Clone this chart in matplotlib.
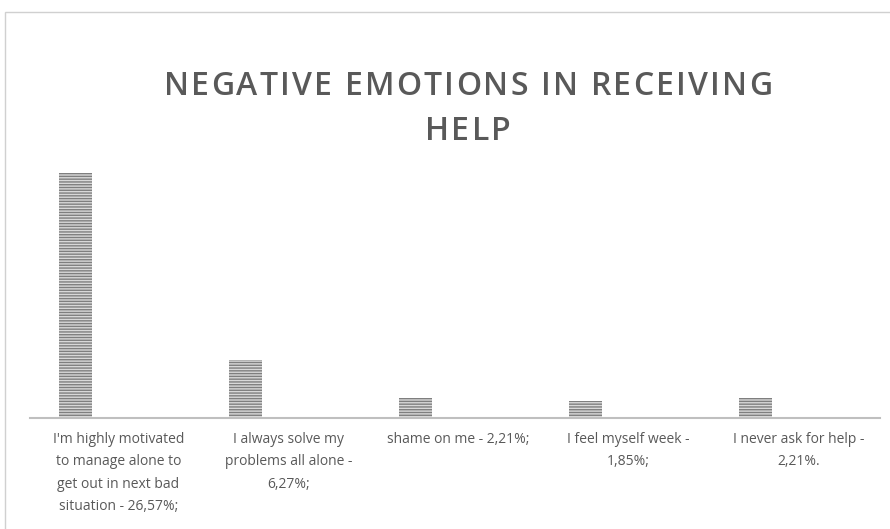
import numpy as np
import matplotlib.pyplot as plt
from matplotlib.patches import Rectangle
from matplotlib.font_manager import FontProperties
from matplotlib.transforms import blended_transform_factory

# data
labels = [
    "I'm highly motivated\nto manage alone to\nget out in next bad\nsituation - 26,57%;",
    "I always solve my\nproblems all alone -\n6,27%;",
    "shame on me - 2,21%;",
    "I feel myself week -\n1,85%;",
    "I never ask for help -\n2,21%.",
]
values = [26.57, 6.27, 2.21, 1.85, 2.21]
title_lines = ["NEGATIVE EMOTIONS IN RECEIVING", "HELP"]

plt.rcParams['font.family'] = ['Open Sans', 'DejaVu Sans']
plt.rcParams['hatch.linewidth'] = 1.0

fig = plt.figure(figsize=(8.9, 5.29), dpi=100)
W, H = 890, 529

# chart border
fig.patches.append(Rectangle((5 / W, -0.01), 1.0, 1 - 12 / H + 0.01,
                             transform=fig.transFigure, fill=False,
                             edgecolor='#d0d0d0', linewidth=1.0))

ax = fig.add_axes([30 / W, 1 - 418 / H, 850 / W, (418 - 141) / H])
x = np.arange(len(values))
ax.bar(x - 0.23, values, width=0.195, color='#d9d9d9', edgecolor='#7f7f7f',
       hatch='------', linewidth=0)
ax.set_xlim(-0.5, len(values) - 0.5)
ax.set_ylim(0, 30)
ax.set_yticks([])
ax.set_xticks([])
for s in ['top', 'right', 'left']:
    ax.spines[s].set_visible(False)
ax.spines['bottom'].set_color('#bfbfbf')
ax.spines['bottom'].set_linewidth(1.5)

trans = blended_transform_factory(ax.transData, fig.transFigure)
for xi, lab in zip(x, labels):
    ax.text(xi + 0.02, 1 - 432 / H, lab, transform=trans, ha='center', va='top',
            fontsize=10, color='#595959', linespacing=1.68)

# letter-spaced title, drawn char by char
fp = FontProperties(family='Open Sans', weight='semibold', size=23)
renderer = fig.canvas.get_renderer()
tracking = 2.2  # px between letters
cx = 468
for line, ybase in zip(title_lines, [95, 140]):
    widths = []
    for ch in line:
        if ch == ' ':
            w = renderer.get_text_width_height_descent('a a', fp, ismath=False)[0] - \
                renderer.get_text_width_height_descent('aa', fp, ismath=False)[0]
        else:
            w = renderer.get_text_width_height_descent(ch, fp, ismath=False)[0]
        widths.append(w)
    total = sum(widths) + tracking * (len(line) - 1)
    xpos = cx - total / 2
    for ch, w in zip(line, widths):
        if ch != ' ':
            fig.text(xpos / W, 1 - ybase / H, ch, fontproperties=fp,
                     color='#595959', ha='left', va='baseline')
        xpos += w + tracking

fig.savefig('out.png', dpi=100)
